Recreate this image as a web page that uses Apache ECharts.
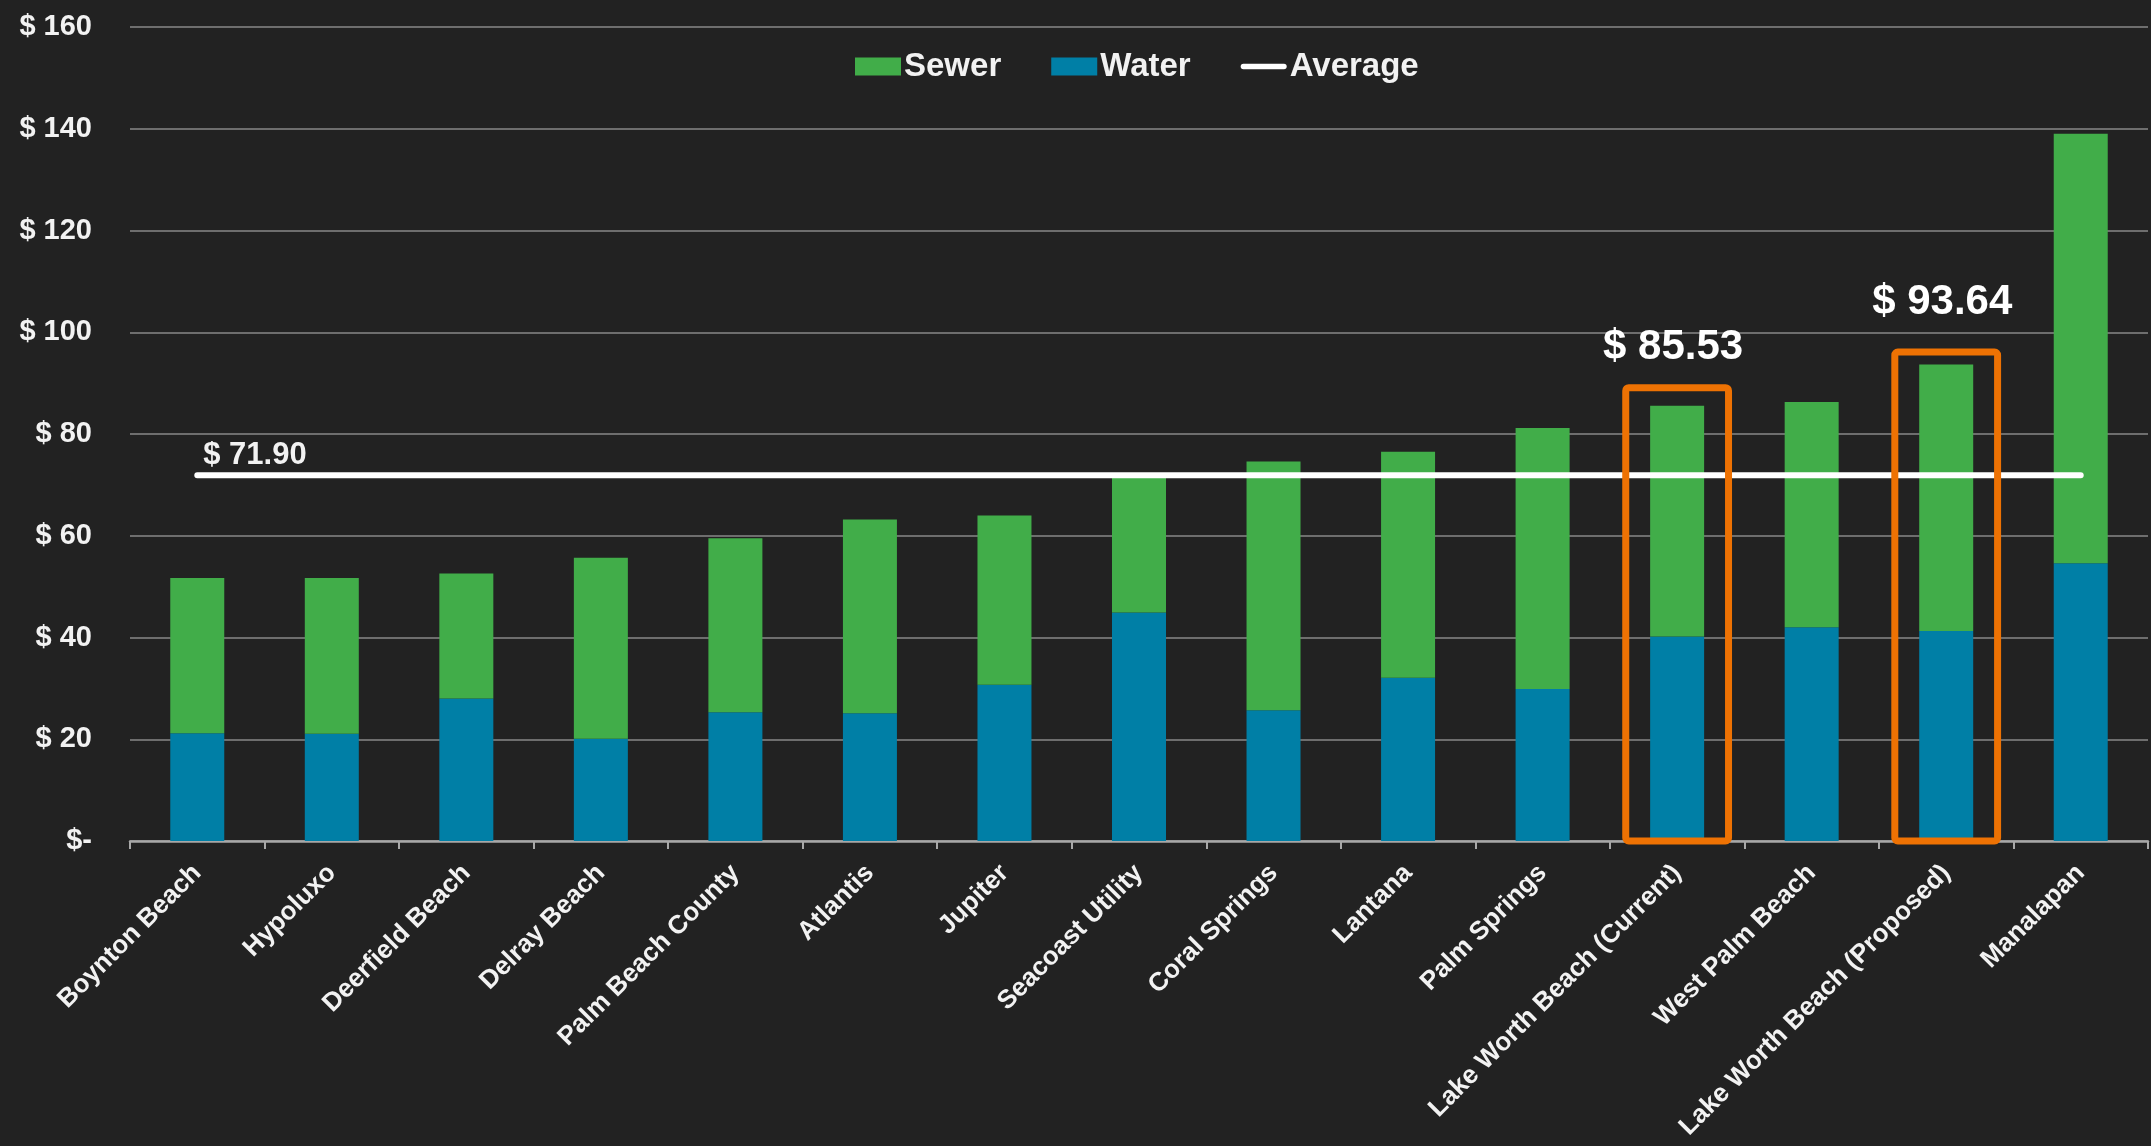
<!DOCTYPE html>
<html>
<head>
<meta charset="utf-8">
<script src="https://cdn.jsdelivr.net/npm/echarts@6/dist/echarts.min.js"></script>
<style>
  html, body { margin: 0; padding: 0; background: #222222; width: 100%; height: 100%; overflow: hidden; }
  #chart { width: 2151px; height: 1146px; }
</style>
</head>
<body>
<div id="chart"></div>
<script>
const categories = ['Boynton Beach', 'Hypoluxo', 'Deerfield Beach', 'Delray Beach', 'Palm Beach County',
  'Atlantis', 'Jupiter', 'Seacoast Utility', 'Coral Springs', 'Lantana', 'Palm Springs',
  'Lake Worth Beach (Current)', 'West Palm Beach', 'Lake Worth Beach (Proposed)', 'Manalapan'];
const water = [21.2, 21.1, 28.0, 20.1, 25.3, 25.1, 30.7, 44.9, 25.7, 32.1, 29.9, 40.2, 42.0, 41.3, 54.6];
const sewer = [30.5, 30.6, 24.6, 35.6, 34.2, 38.1, 33.3, 27.1, 48.9, 44.4, 51.3, 45.33, 44.3, 52.34, 84.4];
const averageValue = 71.90;
const yTicks = [0, 20, 40, 60, 80, 100, 120, 140, 160];
const highlightIndex = [11, 13];
const highlightBoxTop = [89.1, 96.1];
const highlightLabelBase = [92.9, 101.8];

const FONT = '"Liberation Sans", Arial, sans-serif';
const TXT = '#f2f2f2';

const avgData = categories.map((c, i) => i === 0 ? {
  value: averageValue,
  label: {
    show: true, position: 'top', align: 'left', distance: 4, offset: [6, 0],
    formatter: '$ ' + averageValue.toFixed(2),
    color: TXT, fontFamily: FONT, fontSize: 31, fontWeight: 'bold'
  }
} : averageValue);

const boxData = highlightIndex.map((idx, k) => [idx, highlightBoxTop[k], highlightLabelBase[k],
  '$ ' + (water[idx] + sewer[idx]).toFixed(2)]);

const chart = echarts.init(document.getElementById('chart'), null, { renderer: 'canvas' });
chart.setOption({
  backgroundColor: '#222222',
  animation: false,
  grid: { left: 130, right: 3, top: 27, bottom: 305, containLabel: false, outerBoundsMode: 'none' },
  legend: {
    data: [
      { name: 'Sewer', icon: 'rect' },
      { name: 'Water', icon: 'rect' },
      { name: 'Average', icon: 'path://M3,0 L47,0 A3,3 0 0 1 47,6 L3,6 A3,3 0 0 1 3,0 Z', itemStyle: { color: '#ffffff' } }
    ],
    left: 855, top: 50, padding: 0,
    itemWidth: 46, itemHeight: 18, itemGap: 50,
    textStyle: { color: TXT, fontFamily: FONT, fontSize: 33, fontWeight: 'bold', padding: [0, 0, 0, -2] }
  },
  xAxis: {
    type: 'category',
    data: categories,
    axisLine: { show: true, lineStyle: { color: '#a8a8a8', width: 2.5 } },
    axisTick: { show: true, length: 8, lineStyle: { color: '#a8a8a8', width: 2 } },
    axisLabel: {
      rotate: 45, margin: 28, interval: 0,
      color: TXT, fontFamily: FONT, fontSize: 26, fontWeight: 'bold'
    },
    splitLine: { show: false }
  },
  yAxis: {
    type: 'value',
    min: yTicks[0], max: yTicks[yTicks.length - 1], interval: yTicks[1] - yTicks[0],
    axisLine: { show: false },
    axisTick: { show: false },
    axisLabel: {
      margin: 38, color: TXT, fontFamily: FONT, fontSize: 29, fontWeight: 'bold',
      formatter: v => v === 0 ? '$-' : '$ ' + v
    },
    splitLine: { show: true, lineStyle: { color: '#6e6e6e', width: 2 } }
  },
  series: [
    {
      name: 'Water', type: 'bar', stack: 'total', data: water, barWidth: 54,
      itemStyle: { color: '#007FA6' }, z: 2
    },
    {
      name: 'Sewer', type: 'bar', stack: 'total', data: sewer, barWidth: 54,
      itemStyle: { color: '#41AD49' }, z: 2
    },
    {
      name: 'Average', type: 'line', data: avgData,
      symbol: 'circle', symbolSize: 0.1, showSymbol: true,
      lineStyle: { color: '#ffffff', width: 6, cap: 'round' },
      itemStyle: { color: '#ffffff' }, z: 5
    },
    {
      name: 'Highlight', type: 'custom', data: boxData, z: 6,
      renderItem: function (params, api) {
        const idx = api.value(0);
        const base = api.coord([idx, 0]);
        const top = api.coord([idx, api.value(1)]);
        const lab = api.coord([idx, api.value(2)]);
        const band = api.size([1, 0])[0];
        const half = band * 0.382;
        return {
          type: 'group',
          children: [
            {
              type: 'rect',
              shape: { x: base[0] - half, y: top[1], width: half * 2, height: base[1] - top[1], r: 3 },
              style: { fill: 'none', stroke: '#EE7203', lineWidth: 7 }
            },
            {
              type: 'text',
              x: base[0] - 4, y: lab[1],
              style: {
                text: boxData[params.dataIndex][3],
                fill: '#ffffff', font: 'bold 42px ' + FONT,
                align: 'center', verticalAlign: 'bottom'
              }
            }
          ]
        };
      }
    }
  ]
});
</script>
</body>
</html>
